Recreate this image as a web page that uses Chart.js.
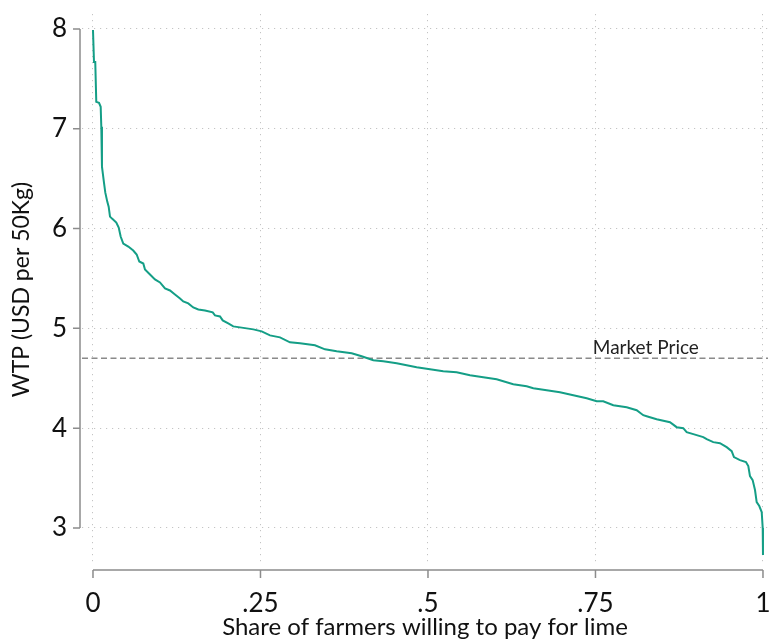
<!DOCTYPE html>
<html>
<head>
<meta charset="utf-8">
<script src="https://cdn.jsdelivr.net/npm/chart.js@4.4.1/dist/chart.umd.min.js"></script>
<style>
  html, body { margin: 0; padding: 0; background: #ffffff; }
  #wrap { width: 771px; height: 639px; }
</style>
</head>
<body>
<div id="wrap"><canvas id="c" width="771" height="639"></canvas></div>
<script>
// Demand curve for lime: share of farmers (x) willing to pay at least each price (y)
const shareOfFarmers = [
  0.000, 0.0015, 0.0034, 0.0049, 0.0090, 0.0115, 0.0124, 0.0134, 0.0164, 0.0184,
  0.0213, 0.0234, 0.0254, 0.0284, 0.0348, 0.0384, 0.0413, 0.0452, 0.0527, 0.0601,
  0.0652, 0.0691, 0.0751, 0.0776, 0.0851, 0.0925, 0.1000, 0.1075, 0.1149, 0.1224,
  0.1299, 0.1348, 0.1422, 0.1497, 0.1572, 0.1672, 0.1787, 0.1821, 0.1896, 0.1936,
  0.2019, 0.2094, 0.2194, 0.2294, 0.2393, 0.2518, 0.2642, 0.2791, 0.2940, 0.3090,
  0.3313, 0.3463, 0.3637, 0.3861, 0.4010, 0.4184, 0.4333, 0.4533, 0.4682, 0.4831,
  0.5030, 0.5228, 0.5428, 0.5627, 0.5825, 0.6025, 0.6273, 0.6473, 0.6572, 0.6772,
  0.6970, 0.7169, 0.7369, 0.7518, 0.7616, 0.7766, 0.7966, 0.8115, 0.8213, 0.8264,
  0.8413, 0.8612, 0.8712, 0.8810, 0.8861, 0.8960, 0.9109, 0.9160, 0.9258, 0.9358,
  0.9458, 0.9533, 0.9567, 0.9657, 0.9746, 0.9781, 0.9806, 0.9846, 0.9881, 0.9906,
  0.9945, 0.9981, 0.9996, 1.000
];
const wtpUsd = [
  7.99, 7.67, 7.67, 7.27, 7.26, 7.22, 7.02, 6.62, 6.46, 6.36,
  6.27, 6.22, 6.12, 6.10, 6.06, 6.01, 5.92, 5.85, 5.82, 5.78,
  5.74, 5.67, 5.65, 5.59, 5.54, 5.49, 5.46, 5.40, 5.38, 5.34,
  5.30, 5.27, 5.25, 5.21, 5.19, 5.18, 5.16, 5.13, 5.12, 5.08,
  5.05, 5.02, 5.01, 5.00, 4.99, 4.97, 4.93, 4.91, 4.86, 4.85,
  4.83, 4.79, 4.77, 4.75, 4.72, 4.68, 4.67, 4.65, 4.63, 4.61,
  4.59, 4.57, 4.56, 4.53, 4.51, 4.49, 4.44, 4.42, 4.40, 4.38,
  4.36, 4.33, 4.30, 4.27, 4.27, 4.23, 4.21, 4.18, 4.13, 4.12,
  4.09, 4.06, 4.01, 4.00, 3.96, 3.94, 3.91, 3.89, 3.86, 3.85,
  3.81, 3.77, 3.71, 3.68, 3.66, 3.62, 3.52, 3.48, 3.38, 3.26,
  3.22, 3.16, 3.00, 2.73
];
const marketPrice = 4.7;
const marketLabel = 'Market Price';
const xTickValues = [0, 0.25, 0.5, 0.75, 1];
const xTickLabels = ['0', '.25', '.5', '.75', '1'];
const yTickValues = [3, 4, 5, 6, 7, 8];

const X_MIN = -0.0164, X_MAX = 1.0075;
const Y_MIN = 2.629, Y_MAX = 8.150;
const FONT = 'Lato, "Open Sans", sans-serif';
const AXIS_GRAY = '#8c8c8c';
const GRID_GRAY = '#c4c4c4';
const CURVE = '#149e86';

// Offset axis lines with outward ticks, spanning only the labelled range
const offsetAxes = {
  id: 'offsetAxes',
  afterDraw(chart) {
    const { ctx, chartArea, scales: { x, y } } = chart;
    ctx.save();
    ctx.strokeStyle = AXIS_GRAY;
    ctx.lineWidth = 1.5;
    ctx.setLineDash([]);
    const ax = chartArea.left - 2;
    ctx.beginPath();
    ctx.moveTo(ax, y.getPixelForValue(yTickValues[yTickValues.length - 1]));
    ctx.lineTo(ax, y.getPixelForValue(yTickValues[0]));
    yTickValues.forEach(v => {
      const py = y.getPixelForValue(v);
      ctx.moveTo(ax, py);
      ctx.lineTo(ax - 7, py);
    });
    const ay = chartArea.bottom + 5;
    ctx.moveTo(x.getPixelForValue(xTickValues[0]), ay);
    ctx.lineTo(x.getPixelForValue(xTickValues[xTickValues.length - 1]), ay);
    xTickValues.forEach(v => {
      const px = x.getPixelForValue(v);
      ctx.moveTo(px, ay);
      ctx.lineTo(px, ay + 8);
    });
    ctx.stroke();

    // label for the market price reference line
    ctx.fillStyle = '#222222';
    ctx.font = '19px ' + FONT;
    ctx.textAlign = 'left';
    ctx.textBaseline = 'alphabetic';
    ctx.fillText(marketLabel, x.getPixelForValue(0.746), y.getPixelForValue(marketPrice) - 4);
    ctx.restore();
  }
};

new Chart(document.getElementById('c'), {
  type: 'line',
  data: {
    datasets: [
      {
        label: 'Market price',
        data: [{ x: X_MIN, y: marketPrice }, { x: X_MAX, y: marketPrice }],
        borderColor: '#8a8a8a',
        borderWidth: 1.5,
        borderDash: [6, 3.5],
        pointRadius: 0,
        order: 2
      },
      {
        label: 'WTP',
        data: shareOfFarmers.map((s, i) => ({ x: s, y: wtpUsd[i] })),
        borderColor: CURVE,
        borderWidth: 2,
        pointRadius: 0,
        tension: 0,
        order: 1
      }
    ]
  },
  options: {
    responsive: false,
    animation: false,
    devicePixelRatio: 1,
    layout: { padding: { left: 0, right: 3, top: 14, bottom: 0 } },
    plugins: { legend: { display: false }, tooltip: { enabled: false } },
    scales: {
      x: {
        type: 'linear',
        min: X_MIN,
        max: X_MAX,
        afterBuildTicks: s => { s.ticks = xTickValues.map(v => ({ value: v })); },
        afterFit: s => { s.height = 74; s.paddingLeft = 0; s.paddingRight = 0; },
        ticks: {
          autoSkip: false,
          maxRotation: 0,
          padding: 23,
          color: '#111111',
          font: { family: FONT, size: 26 },
          callback: (v) => xTickLabels[xTickValues.indexOf(v)] ?? ''
        },
        grid: {
          color: GRID_GRAY,
          lineWidth: 1,
          drawTicks: false
        },
        border: { display: false, dash: [1.2, 4.8] },
        title: {
          display: true,
          text: 'Share of farmers willing to pay for lime',
          color: '#111111',
          font: { family: FONT, size: 24 },
          padding: { top: 0, bottom: -3 }
        }
      },
      y: {
        type: 'linear',
        min: Y_MIN,
        max: Y_MAX,
        afterBuildTicks: s => { s.ticks = yTickValues.map(v => ({ value: v })); },
        afterFit: s => { s.width = 82; s.paddingTop = 0; s.paddingBottom = 0; },
        ticks: {
          autoSkip: false,
          padding: 15,
          color: '#111111',
          font: { family: FONT, size: 26 },
          callback: v => String(v)
        },
        grid: {
          color: GRID_GRAY,
          lineWidth: 1,
          drawTicks: false
        },
        border: { display: false, dash: [1.2, 4.8] },
        title: {
          display: true,
          text: 'WTP (USD per 50Kg)',
          color: '#111111',
          font: { family: FONT, size: 23 },
          padding: { top: 8, bottom: 0 }
        }
      }
    }
  },
  plugins: [offsetAxes]
});
</script>
</body>
</html>
